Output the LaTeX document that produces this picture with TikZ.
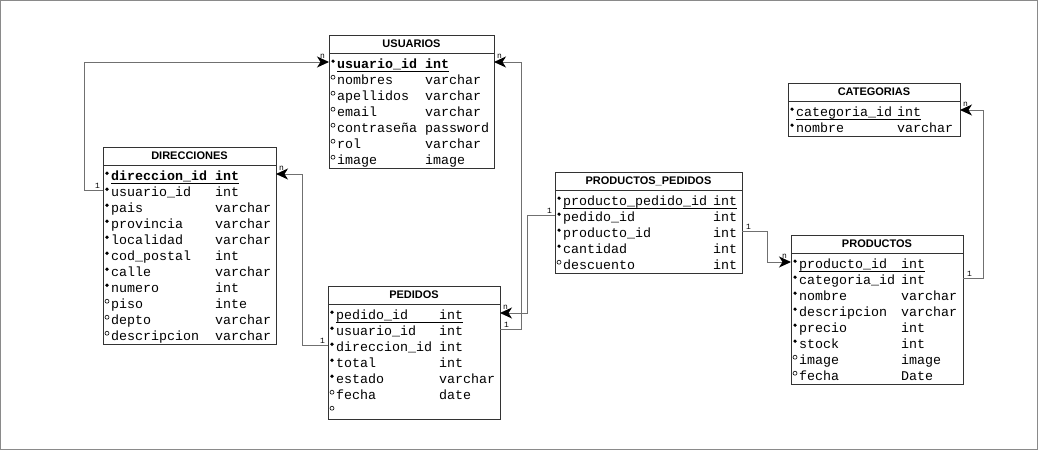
\documentclass[tikz,border=0pt]{standalone}
\usepackage{fontspec}
\setmonofont{Liberation Mono}
\newfontfamily\ttlfont{Liberation Sans}
\usetikzlibrary{arrows.meta}
\definecolor{boxc}{HTML}{333333}
\definecolor{linec}{HTML}{707070}
\definecolor{framec}{HTML}{8A8A8A}
\tikzset{
  tbox/.style={draw=boxc, line width=1pt, fill=white, inner sep=0pt, anchor=north west},
  sepline/.style={draw=boxc, line width=1pt},
  ttl/.style={font={\ttlfont\bfseries\fontsize{11}{12}\selectfont}, inner sep=0pt},
  fld/.style={font={\ttfamily\fontsize{13.33}{15}\selectfont}, anchor=base west, inner sep=0pt},
  pkb/.style={font={\ttfamily\bfseries\fontsize{13.33}{15}\selectfont}},
  pkn/.style={},
  mkf/.style={circle, fill=black, inner sep=0pt, minimum size=3.6pt},
  mko/.style={circle, draw=black, line width=0.6pt, inner sep=0pt, minimum size=4pt},
  conn/.style={draw=linec, line width=1pt, -{Stealth[length=12pt,width=11pt,inset=3.5pt,color=black]}},
  lbl/.style={font={\ttfamily\fontsize{8}{9}\selectfont}, inner sep=0pt},
  uline/.style={draw=black, line width=0.8pt},
}
% table: #1 id, #2 title, #3 left, #4 right, #5 top, #6 rows, #7 type column offset
\newcommand\ertable[7]{%
  \def\tN{#1}\def\tL{#3}\def\tR{#4}\def\tT{#5}\def\tX{#7}%
  \pgfmathsetmacro\tW{#4-#3}%
  \pgfmathsetmacro\tH{21+16*#6}%
  \pgfmathsetmacro\tS{#5+18}%
  \pgfmathsetmacro\tC{(#3+#4)/2}%
  \pgfmathsetmacro\tM{#5+9}%
  \node[tbox, minimum width={\tW pt}, minimum height={\tH pt}] (#1) at (#3,#5) {};
  \draw[sepline] (#3,\tS) -- (#4,\tS);
  \node[ttl] (#1-title) at (\tC,\tM) {#2};
}
% row: #1 index, #2 marker (f/o), #3 name, #4 type, #5 style
\newcommand\frow[5]{%
  \pgfmathsetmacro\rC{\tT+27+16*(#1-1)}%
  \pgfmathsetmacro\rB{\rC+6.5}%
  \pgfmathsetmacro\rM{\rC-0.8}%
  \pgfmathsetmacro\nx{\tL+8}%
  \pgfmathsetmacro\mx{\tL+4}%
  \pgfmathsetmacro\tx{\tL+\tX}%
  \coordinate (\tN-L#1) at (\tL,\rC);
  \coordinate (\tN-R#1) at (\tR,\rC);
  \node[fld,#5] (\tN-n#1) at (\nx,\rB) {#3};
  \node[fld,#5] (\tN-t#1) at (\tx,\rB) {#4};
  \node[mk#2] (\tN-m#1) at (\mx,\rM) {};
}
\newcommand\pkline[1]{%
  \draw[uline] ([yshift=-2.4pt]#1-n1.base west) -- ([yshift=-2.4pt]#1-t1.base east);
}
\begin{document}
\begin{tikzpicture}[x=1pt,y=-1pt]
\useasboundingbox (0,0) rectangle (1038,450);
\draw[framec, line width=1pt] (0.5,0.5) rectangle (1037.5,449.5);

% USUARIOS
\ertable{USU}{USUARIOS}{329}{494}{35}{7}{96}
\frow{1}{f}{usuario\_id}{int}{pkb}
\frow{2}{o}{nombres}{varchar}{pkn}
\frow{3}{o}{apellidos}{varchar}{pkn}
\frow{4}{o}{email}{varchar}{pkn}
\frow{5}{o}{contraseña}{password}{pkn}
\frow{6}{o}{rol}{varchar}{pkn}
\frow{7}{o}{image}{image}{pkn}
\pkline{USU}

% DIRECCIONES
\ertable{DIR}{DIRECCIONES}{103}{276}{147}{11}{112}
\frow{1}{f}{direccion\_id}{int}{pkb}
\frow{2}{f}{usuario\_id}{int}{pkn}
\frow{3}{f}{pais}{varchar}{pkn}
\frow{4}{f}{provincia}{varchar}{pkn}
\frow{5}{f}{localidad}{varchar}{pkn}
\frow{6}{f}{cod\_postal}{int}{pkn}
\frow{7}{f}{calle}{varchar}{pkn}
\frow{8}{f}{numero}{int}{pkn}
\frow{9}{o}{piso}{inte}{pkn}
\frow{10}{o}{depto}{varchar}{pkn}
\frow{11}{o}{descripcion}{varchar}{pkn}
\pkline{DIR}

% PEDIDOS
\ertable{PED}{PEDIDOS}{328}{500}{286}{7}{111}
\frow{1}{f}{pedido\_id}{int}{pkn}
\frow{2}{f}{usuario\_id}{int}{pkn}
\frow{3}{f}{direccion\_id}{int}{pkn}
\frow{4}{f}{total}{int}{pkn}
\frow{5}{f}{estado}{varchar}{pkn}
\frow{6}{o}{fecha}{date}{pkn}
\frow{7}{o}{}{}{pkn}
\pkline{PED}

% PRODUCTOS_PEDIDOS
\ertable{PP}{PRODUCTOS\_PEDIDOS}{555}{742}{172}{5}{158}
\frow{1}{f}{producto\_pedido\_id}{int}{pkn}
\frow{2}{f}{pedido\_id}{int}{pkn}
\frow{3}{f}{producto\_id}{int}{pkn}
\frow{4}{f}{cantidad}{int}{pkn}
\frow{5}{o}{descuento}{int}{pkn}
\pkline{PP}

% CATEGORIAS
\ertable{CAT}{CATEGORIAS}{788}{960}{83}{2}{109}
\frow{1}{f}{categoria\_id}{int}{pkn}
\frow{2}{f}{nombre}{varchar}{pkn}
\pkline{CAT}

% PRODUCTOS
\ertable{PROD}{PRODUCTOS}{791}{963}{235}{8}{110}
\frow{1}{f}{producto\_id}{int}{pkn}
\frow{2}{f}{categoria\_id}{int}{pkn}
\frow{3}{f}{nombre}{varchar}{pkn}
\frow{4}{f}{descripcion}{varchar}{pkn}
\frow{5}{f}{precio}{int}{pkn}
\frow{6}{f}{stock}{int}{pkn}
\frow{7}{o}{image}{image}{pkn}
\frow{8}{o}{fecha}{Date}{pkn}
\pkline{PROD}

% connector labels (n partly under the arrowheads)
\node[lbl, anchor=south east] (l1a) at ([xshift=-3pt,yshift=1pt]DIR-L2) {1};
\node[lbl, anchor=south east] (l1b) at ([xshift=-4pt,yshift=3pt]USU-L1) {n};
\node[lbl, anchor=south west] (l2a) at ([xshift=4pt,yshift=1pt]PED-R2) {1};
\node[lbl, anchor=south west] (l2b) at ([xshift=3pt,yshift=3pt]USU-R1) {n};
\node[lbl, anchor=south east] (l3a) at ([xshift=-3pt,yshift=1pt]PP-L2) {1};
\node[lbl, anchor=south west] (l3b) at ([xshift=3pt,yshift=3pt]PED-R1) {n};
\node[lbl, anchor=south east] (l4a) at ([xshift=-3pt,yshift=1pt]PED-L3) {1};
\node[lbl, anchor=south west] (l4b) at ([xshift=3pt,yshift=3pt]DIR-R1) {n};
\node[lbl, anchor=south west] (l5a) at ([xshift=4pt,yshift=1pt]PP-R3) {1};
\node[lbl, anchor=south east] (l5b) at ([xshift=-4pt,yshift=3pt]PROD-L1) {n};
\node[lbl, anchor=south west] (l6a) at ([xshift=4pt,yshift=1pt]PROD-R2) {1};
\node[lbl, anchor=south west] (l6b) at ([xshift=3pt,yshift=3pt]CAT-R1) {n};

% connectors
\draw[conn] (DIR-L2) -- ++(-19,0) |- (USU-L1);
\draw[conn] (PED-R2) -- ++(21,0) |- (USU-R1);
\draw[conn] (PP-L2) -- ++(-28,0) |- (PED-R1);
\draw[conn] (PED-L3) -- ++(-26,0) |- (DIR-R1);
\draw[conn] (PP-R3) -- ++(25,0) |- (PROD-L1);
\draw[conn] (PROD-R2) -- ++(20,0) |- (CAT-R1);
\end{tikzpicture}
\end{document}
